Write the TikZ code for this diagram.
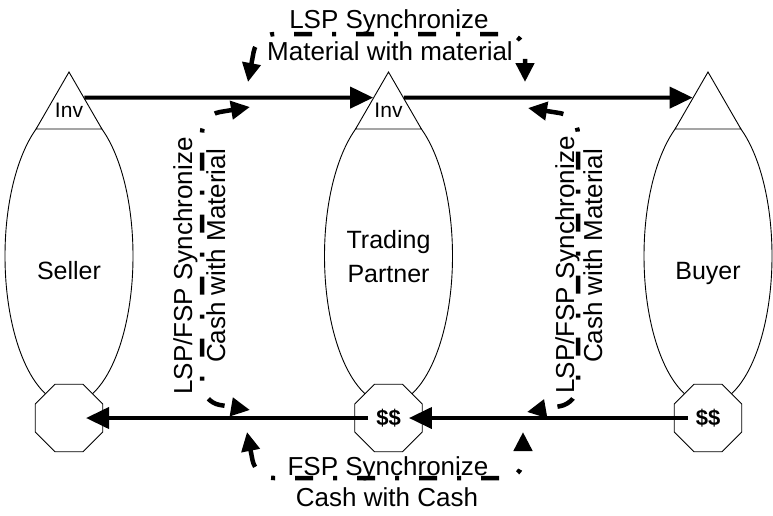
\documentclass[tikz,border=0pt]{standalone}
\usepackage{fontspec}
\setmainfont{Liberation Sans}
\usetikzlibrary{arrows.meta,shapes.geometric,calc}

\begin{document}
\begin{tikzpicture}[x=1pt,y=1pt,>={Triangle[length=23pt,width=21pt]},node distance=319.5pt,
                    entity/.style={ellipse,draw,line width=0.9pt,minimum width=128pt,minimum height=296pt,inner sep=0pt},
                    stock/.style={regular polygon,regular polygon sides=3,draw,fill=white,line width=0.9pt,minimum size=76pt,inner sep=0pt},
                    till/.style={regular polygon,regular polygon sides=8,draw,fill=white,line width=0.9pt,minimum size=73pt,inner sep=0pt},
                    tag/.style={font=\fontsize{21}{25}\selectfont},
                    cash/.style={font=\fontsize{22}{26}\selectfont\bfseries,inner xsep=8pt},
                    party/.style={font=\fontsize{25}{34}\selectfont,align=center},
                    note/.style={font=\fontsize{26}{31}\selectfont,inner sep=0pt},
                    flow/.style={->,line width=4pt},
                    sync/.style={<->,>={Triangle[length=19pt,width=18pt]},line width=4.5pt,
                                 dash pattern=on 18pt off 20pt on 4pt off 20pt,rounded corners=18pt}]
  \useasboundingbox (0,0) rectangle (773,-515);
  \node[entity] (sEll) at (69,-256) {};
  \node[entity] (tEll) [right of=sEll] {};
  \node[entity] (bEll) [right of=tEll] {};
  \node[stock] (sTri) at (69,-110) {};
  \node[stock] (tTri) [right of=sTri] {};
  \node[stock] (bTri) [right of=tTri] {};
  \node[till] (sOct) at (69,-418) {};
  \node[till] (tOct) [right of=sOct] {};
  \node[till] (bOct) [right of=tOct] {};

  \node[tag,anchor=base] (sInv) at (69,-117) {Inv};
  \node[tag,anchor=base] (tInv) at (388.5,-117) {Inv};
  \node[cash] (tCash) at (tOct) {\$\$};
  \node[cash] (bCash) at (bOct) {\$\$};
  \coordinate (sCash) at (86,-418);

  \node[party,anchor=base] (sName) at (69,-279) {Seller};
  \node[party] (tName) at (388.5,-257) {Trading\\Partner};
  \node[party,anchor=base] (bName) at (708,-279) {Buyer};

  \draw[flow] (sTri.39) -- (tTri.141);
  \draw[flow] (tTri.39) -- (bTri.141);
  \draw[flow] (bCash.west) -- (tCash.east);
  \draw[flow] (tCash.west) -- (sCash);

  \node[note,anchor=base] (topA) at (389,-28) {LSP Synchronize};
  \node[note,anchor=base] (topB) at (390,-60) {Material with material};
  \node[note,anchor=base,rotate=90] (leftA) at (192,-266) {LSP/FSP Synchronize};
  \node[note,anchor=base,rotate=90] (leftB) at (225,-256) {Cash with Material};
  \node[note,anchor=base,rotate=90] (rightA) at (574,-265) {LSP/FSP Synchronize};
  \node[note,anchor=base,rotate=90] (rightB) at (602,-256) {Cash with Material};
  \node[note,anchor=base] (botA) at (388,-475) {FSP Synchronize};
  \node[note,anchor=base] (botB) at (387,-506) {Cash with Cash};

  \coordinate (tlA) at (248,-82);
  \coordinate (tlB) at (250,-107);
  \coordinate (trA) at (525,-82);
  \coordinate (trB) at (528,-108);
  \coordinate (blA) at (250,-410);
  \coordinate (blB) at (247,-432);
  \coordinate (brA) at (527,-412);
  \coordinate (brB) at (523,-432);
  \draw[sync] (tlA) -- ++(9,48) -- ($(trA)+(0,48)$) -- (trA);
  \draw[sync] (tlB) -- ++(-48,-8) -- ($(blA)+(-48,8)$) -- (blA);
  \draw[sync] (trB) -- ++(50,-8) -- ($(brA)+(51,9)$) -- (brA);
  \draw[sync] (blB) -- ++(9,-46) -- ($(brB)+(0,-46)$) -- (brB);
\end{tikzpicture}
\end{document}
